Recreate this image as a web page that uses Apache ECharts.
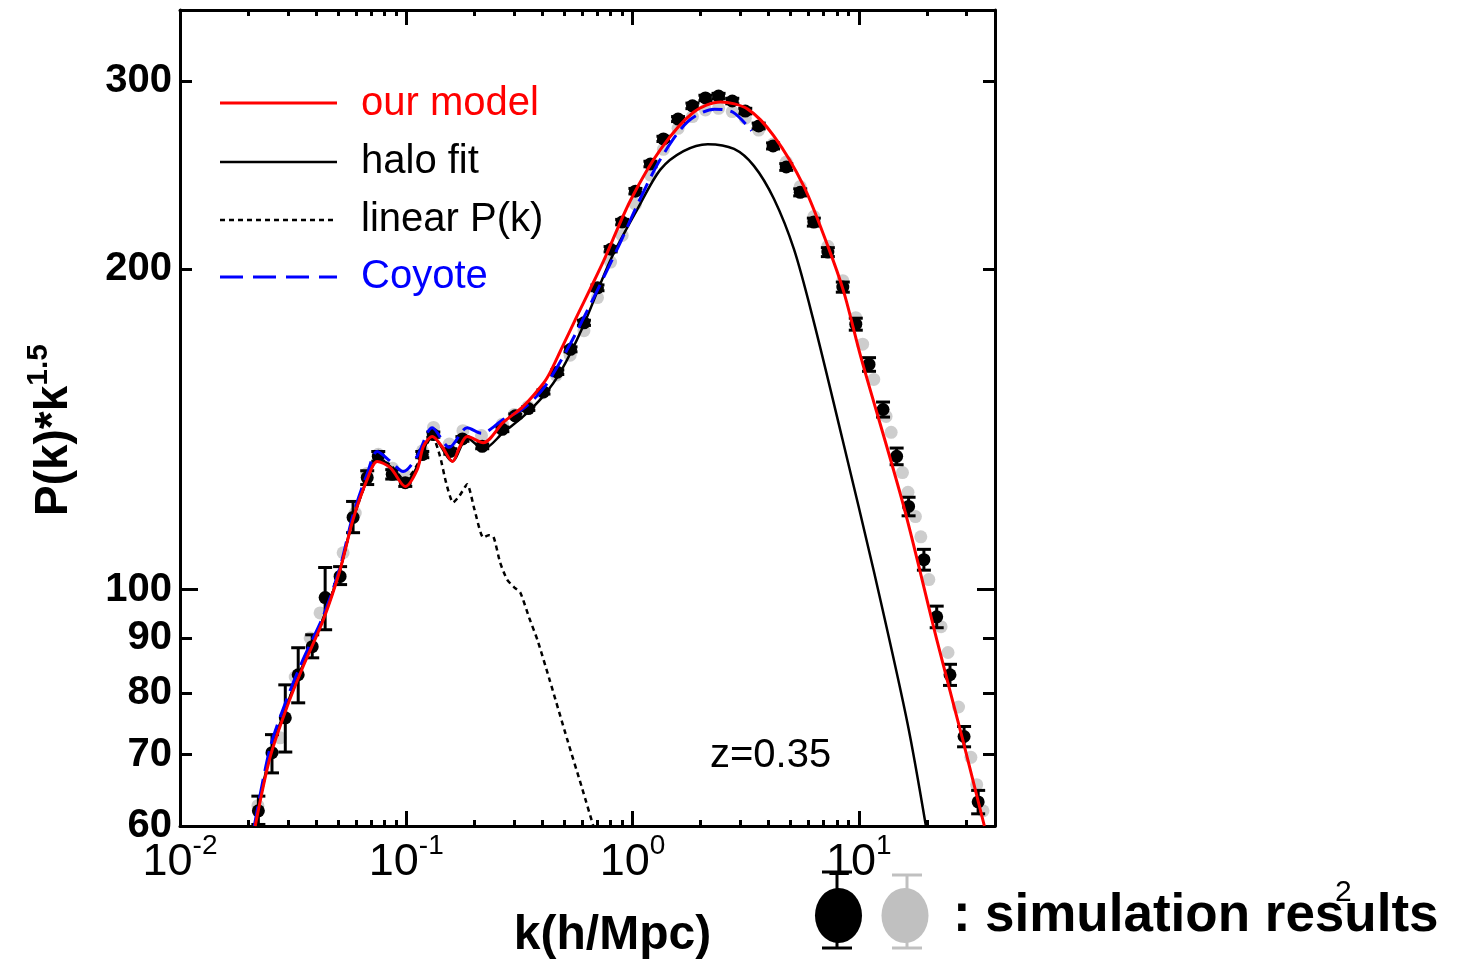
<!DOCTYPE html>
<html>
<head>
<meta charset="utf-8">
<script src="https://cdn.jsdelivr.net/npm/echarts@6/dist/echarts.min.js"></script>
<style>
html, body { margin: 0; padding: 0; background: #fff; }
#chart { width: 1458px; height: 962px; }
</style>
</head>
<body>
<div id="chart"></div>
<script>
// P(k)*k^1.5 at z = 0.35: model curves and two sets of simulation measurements

// our model
const kModel = [0.0215,0.025,0.0297,0.035,0.043,0.051,0.0582,0.0672,0.0744,0.085,0.099,0.1119,0.119,0.1303,0.144,0.160,0.172,0.186,0.219,0.269,0.330,0.404,0.433,0.480,0.571,0.65,0.745,0.98,1.33,1.86,2.45,3.23,4.21,5.71,7.30,8.59,10.2,15.8,22.1,28.8,35.9];
const pModel = [60,69.6,77.6,84.7,93.7,104.4,116.4,126.9,131.9,130.2,125,129.7,136.2,139.2,136.2,131.9,136,139.2,137.4,143.6,148.7,156.2,160,167.5,181,191.5,203.5,232,259,280.6,286.9,282.5,266.6,239.2,210.1,190.2,165.5,119.7,89.8,72.3,60];

// halo fit
const kHalo = [0.0214,0.025,0.0297,0.035,0.043,0.051,0.0582,0.0672,0.0744,0.085,0.099,0.1119,0.1303,0.160,0.186,0.219,0.269,0.330,0.404,0.48,0.6,0.8,1.05,1.33,1.68,2.15,2.81,3.44,4.22,5.17,6.26,8.47,11.7,16.4,19.8];
const pHalo = [60,70,78,85,94,104.5,116.5,127,132.5,130.5,126,130.5,139.5,132,138.8,135.5,140.5,145.5,152,160,176,204,227.5,248,258,261.9,259.2,249.9,232.6,208.7,180,138.4,103.7,75,60];

// linear P(k)
const kLinear = [0.0214,0.025,0.0297,0.035,0.043,0.051,0.0582,0.0672,0.0744,0.085,0.099,0.1119,0.1303,0.141,0.150,0.161,0.172,0.186,0.20,0.219,0.231,0.243,0.26,0.279,0.30,0.319,0.35,0.38,0.43,0.515,0.60,0.671];
const pLinear = [60,70,78,85,94,104.5,116.5,127,132.5,131,126.5,131,139.5,133.4,126,120.7,122.5,125.6,119,111.9,112.5,112.1,106,102.2,100.5,99.4,94,89.7,82.3,72.3,65,60];

// Coyote emulator
const kCoyote = [0.0213,0.025,0.0297,0.035,0.043,0.051,0.0582,0.0672,0.0744,0.085,0.097,0.1119,0.1303,0.155,0.186,0.215,0.269,0.330,0.404,0.515,0.67,0.867,1.063,1.33,1.75,2.30,2.78,3.36];
const pCoyote = [60,71,79,86,94.5,105,117.5,128.5,134.8,132,129.1,133.5,141.9,136,141.9,140.2,144.5,148,154.5,168.1,187.5,210,231,253.6,274.8,282.5,280.6,269.6];

// simulation A (black, with error bars)
const kSimA = [0.0222,0.0255,0.0292,0.0333,0.0384,0.0438,0.0510,0.0582,0.0672,0.0752,0.0867,0.099,0.1177,0.1317,0.1566,0.1771,0.2166,0.2659,0.3034,0.3463,0.404,0.465,0.532,0.61,0.70,0.80,0.90,1.03,1.20,1.37,1.59,1.84,2.10,2.40,2.76,3.15,3.61,4.18,4.78,5.51,6.33,7.30,8.5,9.7,11.1,12.8,14.7,16.6,19.4,22.1,25.3,29.2,33.7];
const pSimA = [62.0,70.3,75.8,83.2,88.4,98.3,102.9,116.9,127.4,133.4,128.3,126,133.9,139.8,134.8,138.5,136.3,141.4,145.6,147.9,153.3,160,168.1,178,192,208.7,221.3,236.6,250.9,264.9,276.5,284.5,289.4,290.6,287.5,281.3,272.4,260.9,249.3,236,221.3,207.4,192.3,177.5,162.7,147.6,133.4,119.7,106.7,94.3,83.2,72.8,63.2];
const loSimA = [60.2,67.3,70.4,78.3,86.3,91.7,101.1,113.1,125.5,132.0,127.0,125.0,133.0,139.0,134.0,137.8,135.6,140.7,145.0,147.3,152.6,159.2,167.2,177.0,190.8,207.5,220.0,235.2,249.4,263.4,275.0,282.8,287.7,288.9,285.8,279.6,270.7,259.2,247.5,234.2,219.4,205.4,190.2,175.2,160.3,145.2,131.0,117.3,104.3,92.1,81.3,71.2,61.6];
const hiSimA = [64.0,73.1,81.4,88.2,90.7,104.9,105.1,121.0,129.3,134.8,129.6,127.0,134.8,140.6,135.6,139.2,137.0,142.1,146.2,148.5,154.0,160.8,169.0,179.0,193.2,209.9,222.6,238.0,252.4,266.4,278.0,286.2,291.1,292.3,289.2,283.0,274.1,262.6,251.1,237.8,223.2,209.4,194.4,179.8,165.1,150.0,135.8,122.1,109.1,96.5,85.1,74.4,64.8];

// simulation B (grey)
const kSimB = [0.0221,0.0277,0.0323,0.0376,0.0416,0.0526,0.0595,0.067,0.0752,0.087,0.099,0.118,0.132,0.155,0.178,0.215,0.266,0.30,0.345,0.40,0.46,0.53,0.61,0.70,0.80,0.90,1.03,1.20,1.37,1.59,1.84,2.10,2.40,2.76,3.15,3.61,4.18,4.78,5.51,6.33,7.30,8.5,9.7,10.4,11.65,13.2,13.9,15.6,16.5,17.8,18.8,20.4,23.1,24.8,27.6,31.3,33.2,35.4];
const pSimB = [62.7,72.6,82.8,90.1,95.1,108.3,118,128.5,134,130,128,135,142,137,141,139.5,143,146,148.5,153,159,166,175,188,203,215,230,245,259,271,278,282,283,281,277,270,262,252,239,224,210,195,180,170,157.5,145.4,140.5,128.8,123.4,117.1,112.1,102.2,92.3,87.3,77.6,69.6,65.6,62];

// axis ticks and labels
const xMajorTicks = [0.01, 0.1, 1, 10];
const xMinorTicks = [0.02,0.03,0.04,0.05,0.06,0.07,0.08,0.09,0.2,0.3,0.4,0.5,0.6,0.7,0.8,0.9,2,3,4,5,6,7,8,9,20,30];
const yTickLabels = [60, 70, 80, 90, 100, 200, 300];
const yShortTicks = [60, 70, 80, 90, 200, 300];
const yLongTicks = [100];

const FONT = '"Liberation Sans", Arial, Helvetica, sans-serif';
const pairs = (xs, ys) => xs.map((x, i) => [x, ys[i]]);

const chart = echarts.init(document.getElementById('chart'), null, { renderer: 'canvas' });

const tickLine = { color: '#000', width: 3 };
const xBase = { type: 'log', logBase: 10, min: 0.01, max: 40, splitLine: { show: false }, axisPointer: { show: false } };
const yBase = { type: 'log', logBase: 10, min: 60, max: 350, splitLine: { show: false }, axisPointer: { show: false } };

// extra axes that only carry frame lines and tick marks
function frameAxis(base, position, ticks, len, withLine) {
  return Object.assign({}, base, {
    position: position,
    axisLine: { show: withLine, onZero: false, lineStyle: { color: '#000', width: 3 } },
    axisTick: { show: true, inside: true, length: len, customValues: ticks, lineStyle: tickLine },
    axisLabel: { show: false }
  });
}

const xMain = Object.assign({}, xBase, {
  position: 'bottom',
  axisLine: { show: true, onZero: false, lineStyle: { color: '#000', width: 3 } },
  axisTick: { show: true, inside: true, length: 15, customValues: xMajorTicks, lineStyle: tickLine },
  axisLabel: {
    show: true,
    customValues: xMajorTicks,
    margin: 6,
    formatter: function (v) {
      const e = Math.round(Math.log10(v));
      return '{b|10}{s|' + e + '}';
    },
    rich: {
      b: { fontFamily: FONT, fontSize: 45, lineHeight: 62, color: '#000' },
      s: { fontFamily: FONT, fontSize: 28, verticalAlign: 'top', color: '#000' }
    }
  },
  name: 'k(h/Mpc)',
  nameLocation: 'middle',
  nameGap: 86,
  nameMoveOverlap: false,
  nameTextStyle: { fontFamily: FONT, fontSize: 48, fontWeight: 'bold', color: '#000', padding: [0, 0, 0, 50] }
});

const yMain = Object.assign({}, yBase, {
  position: 'left',
  axisLine: { show: true, onZero: false, lineStyle: { color: '#000', width: 3 } },
  axisTick: { show: true, inside: true, length: 12, customValues: yShortTicks, lineStyle: tickLine },
  axisLabel: {
    show: true,
    customValues: yTickLabels,
    margin: 8,
    fontFamily: FONT,
    fontSize: 40,
    fontWeight: 'bold',
    color: '#000',
    formatter: function (v) { return String(Math.round(v)); }
  },
  name: '{b|P(k)*k}{s|1.5}',
  nameLocation: 'middle',
  nameRotate: 90,
  nameGap: 96,
  nameMoveOverlap: false,
  nameTextStyle: {
    padding: [0, 24, 0, 0],
    rich: {
      b: { fontFamily: FONT, fontSize: 46, fontWeight: 'bold', lineHeight: 60, color: '#000' },
      s: { fontFamily: FONT, fontSize: 30, fontWeight: 'bold', verticalAlign: 'top', color: '#000' }
    }
  }
});

const option = {
  animation: false,
  backgroundColor: '#fff',
  grid: { left: 180, top: 10, width: 815, height: 816, containLabel: false, outerBoundsMode: 'none' },
  xAxis: [
    xMain,
    frameAxis(xBase, 'bottom', xMinorTicks, 6, false),
    frameAxis(xBase, 'top', xMajorTicks, 15, true),
    frameAxis(xBase, 'top', xMinorTicks, 6, false)
  ],
  yAxis: [
    yMain,
    frameAxis(yBase, 'left', yLongTicks, 18, false),
    frameAxis(yBase, 'right', yShortTicks, 12, true),
    frameAxis(yBase, 'right', yLongTicks, 18, false)
  ],
  series: [
    {
      name: 'simulation B', type: 'scatter', xAxisIndex: 0, yAxisIndex: 0,
      data: pairs(kSimB, pSimB), symbol: 'circle', symbolSize: 13,
      itemStyle: { color: '#c0c0c0' }, z: 1, silent: true
    },
    {
      name: 'simulation A errors', type: 'custom', xAxisIndex: 0, yAxisIndex: 0,
      data: kSimA.map((k, i) => [k, loSimA[i], hiSimA[i]]),
      encode: { x: 0, y: [1, 2] },
      z: 2, silent: true,
      renderItem: function (params, api) {
        const lo = api.coord([api.value(0), api.value(1)]);
        const hi = api.coord([api.value(0), api.value(2)]);
        const half = 7;
        const st = { stroke: '#000', lineWidth: 3 };
        return {
          type: 'group',
          children: [
            { type: 'line', shape: { x1: lo[0], y1: lo[1], x2: hi[0], y2: hi[1] }, style: st },
            { type: 'line', shape: { x1: lo[0] - half, y1: lo[1], x2: lo[0] + half, y2: lo[1] }, style: st },
            { type: 'line', shape: { x1: hi[0] - half, y1: hi[1], x2: hi[0] + half, y2: hi[1] }, style: st }
          ]
        };
      }
    },
    {
      name: 'simulation A', type: 'scatter', xAxisIndex: 0, yAxisIndex: 0,
      data: pairs(kSimA, pSimA), symbol: 'circle', symbolSize: 13,
      itemStyle: { color: '#000', opacity: 1 }, z: 3, silent: true
    },
    {
      name: 'halo fit', type: 'line', data: pairs(kHalo, pHalo), symbol: 'none', smooth: 0.3,
      lineStyle: { color: '#000', width: 2.5 }, z: 4, silent: true
    },
    {
      name: 'linear P(k)', type: 'line', data: pairs(kLinear, pLinear), symbol: 'none', smooth: 0.2,
      lineStyle: { color: '#000', width: 2.5, type: [5, 4] }, z: 4, silent: true
    },
    {
      name: 'Coyote', type: 'line', data: pairs(kCoyote, pCoyote), symbol: 'none', smooth: 0.3,
      lineStyle: { color: '#0000ff', width: 3, type: [20, 8] }, z: 5, silent: true
    },
    {
      name: 'our model', type: 'line', data: pairs(kModel, pModel), symbol: 'none', smooth: 0.3,
      lineStyle: { color: '#ff0000', width: 3 }, z: 6, silent: true
    }
  ],
  graphic: [
    // curve key
    { type: 'line', z: 100, shape: { x1: 220, y1: 103, x2: 337, y2: 103 }, style: { stroke: '#ff0000', lineWidth: 3 } },
    { type: 'text', z: 100, x: 361, y: 104, style: { text: 'our model', fill: '#ff0000', fontSize: 40, fontFamily: FONT, verticalAlign: 'middle', align: 'left' } },
    { type: 'line', z: 100, shape: { x1: 220, y1: 162, x2: 337, y2: 162 }, style: { stroke: '#000', lineWidth: 2.5 } },
    { type: 'text', z: 100, x: 361, y: 162, style: { text: 'halo fit', fill: '#000', fontSize: 40, fontFamily: FONT, verticalAlign: 'middle', align: 'left' } },
    { type: 'line', z: 100, shape: { x1: 220, y1: 220, x2: 337, y2: 220 }, style: { stroke: '#000', lineWidth: 2.5, lineDash: [5, 4] } },
    { type: 'text', z: 100, x: 361, y: 220, style: { text: 'linear P(k)', fill: '#000', fontSize: 40, fontFamily: FONT, verticalAlign: 'middle', align: 'left' } },
    { type: 'line', z: 100, shape: { x1: 220, y1: 277, x2: 337, y2: 277 }, style: { stroke: '#0000ff', lineWidth: 3, lineDash: [23, 10] } },
    { type: 'text', z: 100, x: 361, y: 277, style: { text: 'Coyote', fill: '#0000ff', fontSize: 40, fontFamily: FONT, verticalAlign: 'middle', align: 'left' } },

    // redshift tag
    { type: 'text', z: 100, x: 710, y: 756, style: { text: 'z=0.35', fill: '#000', fontSize: 40, fontFamily: FONT, verticalAlign: 'middle', align: 'left' } },

    // simulation key: black and grey markers with error bars
    { type: 'line', z: 100, shape: { x1: 837, y1: 872, x2: 837, y2: 948 }, style: { stroke: '#000', lineWidth: 3 } },
    { type: 'line', z: 100, shape: { x1: 822, y1: 872, x2: 852, y2: 872 }, style: { stroke: '#000', lineWidth: 3 } },
    { type: 'line', z: 100, shape: { x1: 822, y1: 948, x2: 852, y2: 948 }, style: { stroke: '#000', lineWidth: 3 } },
    { type: 'circle', z: 101, x: 838.5, y: 915.5, scaleX: 0.855, shape: { cx: 0, cy: 0, r: 27.5 }, style: { fill: '#000' } },
    { type: 'line', z: 100, shape: { x1: 907, y1: 875, x2: 907, y2: 948 }, style: { stroke: '#c0c0c0', lineWidth: 3 } },
    { type: 'line', z: 100, shape: { x1: 892, y1: 875, x2: 922, y2: 875 }, style: { stroke: '#c0c0c0', lineWidth: 3 } },
    { type: 'line', z: 100, shape: { x1: 892, y1: 948, x2: 922, y2: 948 }, style: { stroke: '#c0c0c0', lineWidth: 3 } },
    { type: 'circle', z: 101, x: 905, y: 915.5, scaleX: 0.855, shape: { cx: 0, cy: 0, r: 27.5 }, style: { fill: '#c0c0c0' } },
    { type: 'text', z: 100, x: 953, y: 916, style: { text: ':', fill: '#000', fontSize: 53, fontWeight: 'bold', fontFamily: FONT, verticalAlign: 'middle', align: 'left' } },
    { type: 'text', z: 100, x: 985, y: 916, style: { text: 'simulation results', fill: '#000', fontSize: 53, fontWeight: 'bold', fontFamily: FONT, verticalAlign: 'middle', align: 'left' } },
    { type: 'text', z: 102, x: 1335, y: 893, style: { text: '2', fill: '#000', fontSize: 30, fontFamily: FONT, verticalAlign: 'middle', align: 'left' } }
  ]
};

chart.setOption(option);
</script>
</body>
</html>
